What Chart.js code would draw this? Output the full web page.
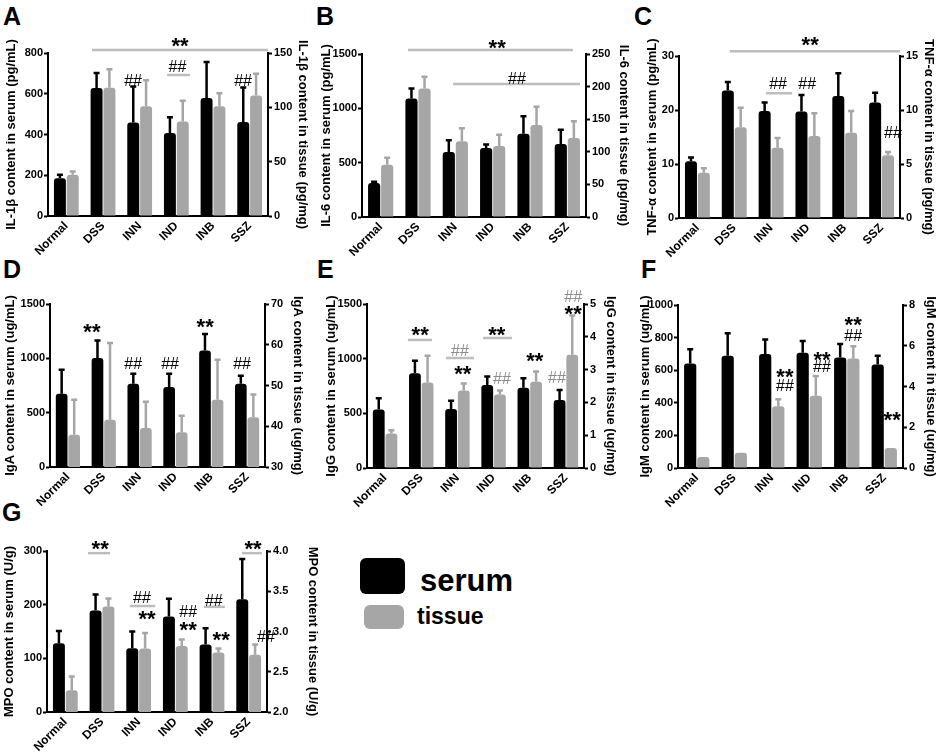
<!DOCTYPE html>
<html>
<head>
<meta charset="utf-8">
<script src="https://cdn.jsdelivr.net/npm/chart.js@4.4.0/dist/chart.umd.min.js"></script>
<style>
  body { margin: 0; background: #fff; }
  #page { position: relative; width: 941px; height: 754px; overflow: hidden; font-family: 'Liberation Sans', Arial, sans-serif; }
  canvas { position: absolute; }
  .letter { position: absolute; font-weight: bold; font-size: 25px; line-height: 25px; color: #000; }
  .swatch { position: absolute; border-radius: 6px; }
  .legend-text { position: absolute; font-weight: bold; color: #000; line-height: 1; }
</style>
</head>
<body>
<div id="page">
  <div class="letter" style="left:3px;top:4px">A</div>
  <div class="letter" style="left:316px;top:4px">B</div>
  <div class="letter" style="left:634px;top:4px">C</div>
  <div class="letter" style="left:3px;top:257px">D</div>
  <div class="letter" style="left:317px;top:257px">E</div>
  <div class="letter" style="left:641px;top:257px">F</div>
  <div class="letter" style="left:2px;top:500px">G</div>

  <div class="swatch" style="left:360px;top:558px;width:45px;height:36px;background:#000"></div>
  <div class="legend-text" style="left:420px;top:565px;font-size:31px">serum</div>
  <div class="swatch" style="left:364px;top:605px;width:40px;height:24px;background:#a6a6a6"></div>
  <div class="legend-text" style="left:417px;top:605px;font-size:23px">tissue</div>
</div>
<script>
// Groups on the x axis
const categories = ['Normal', 'DSS', 'INN', 'IND', 'INB', 'SSZ'];

// A - IL-1β
const il1bSerum = [185, 628, 459, 407, 579, 461];
const il1bSerumErr = [17, 74, 177, 78, 177, 170];
const il1bTissue = [38, 118, 101, 87, 101, 111];
const il1bTissueErr = [3, 17, 24, 19, 12, 20];

// B - IL-6
const il6Serum = [312, 1090, 598, 635, 765, 672];
const il6SerumErr = [12, 92, 108, 33, 162, 130];
const il6Tissue = [80, 197, 116, 109, 141, 121];
const il6TissueErr = [11, 18, 20, 17, 28, 26];

// C - TNF-α
const tnfSerum = [10.5, 23.6, 19.8, 19.7, 22.6, 21.4];
const tnfSerumErr = [0.7, 1.6, 1.6, 3.1, 4.2, 1.8];
const tnfTissue = [4.2, 8.4, 6.5, 7.6, 7.9, 5.8];
const tnfTissueErr = [0.4, 1.8, 0.9, 2.1, 2.0, 0.3];

// D - IgA
const igaSerum = [675, 1003, 767, 736, 1071, 767];
const igaSerumErr = [221, 160, 92, 123, 153, 73];
const igaTissue = [37.9, 41.6, 39.6, 38.5, 46.5, 42.2];
const igaTissueErr = [8.6, 18.8, 6.4, 4.1, 9.8, 5.6];

// E - IgG
const iggSerum = [536, 866, 539, 759, 735, 621];
const iggSerumErr = [101, 114, 76, 77, 85, 92];
const iggTissue = [1.05, 2.61, 2.36, 2.24, 2.63, 3.45];
const iggTissueErr = [0.10, 0.81, 0.22, 0.12, 0.31, 1.20];

// F - IgM
const igmSerum = [641, 688, 699, 707, 678, 635];
const igmSerumErr = [88, 138, 90, 72, 82, 54];
const igmTissue = [0.54, 0.75, 3.03, 3.54, 5.38, 0.98];
const igmTissueErr = [0, 0, 0.35, 0.98, 0.6, 0];

// G - MPO
const mpoSerum = [128, 189, 119, 178, 126, 210];
const mpoSerumErr = [23, 30, 31, 33, 30, 75];
const mpoTissue = [2.27, 3.31, 2.79, 2.82, 2.74, 2.71];
const mpoTissueErr = [0.17, 0.10, 0.19, 0.08, 0.05, 0.13];

// Significance marks: x in category units, y in the serum axis units
const marksA = [
    { line: [0.7, 5.5], y: 815 }, { text: '**', x: 3.1, y: 850 },
    { text: '##', x: 1.82, y: 667 },
    { line: [2.75, 3.37], y: 692 }, { text: '##', x: 3.03, y: 736 },
    { text: '##', x: 4.82, y: 667 }
];
const marksB = [
    { line: [0.73, 5.15], y: 1537 }, { text: '**', x: 3.12, y: 1583 },
    { line: [1.94, 5.34], y: 1224 }, { text: '##', x: 3.65, y: 1279 }
];
const marksC = [
    { line: [0.88, 5.5], y: 30.9 }, { text: '**', x: 3.06, y: 32.6 },
    { line: [1.86, 2.57], y: 23.1 }, { text: '##', x: 2.19, y: 25.0 },
    { text: '##', x: 2.98, y: 25.0 },
    { text: '##', x: 5.31, y: 15.9 }
];
const marksD = [
    { text: '**', x: 0.67, y: 1279 },
    { text: '##', x: 1.82, y: 957 },
    { text: '##', x: 2.85, y: 957 },
    { text: '**', x: 3.83, y: 1325 },
    { text: '##', x: 4.86, y: 957 }
];
const marksE = [
    { line: [0.63, 1.30], y: 1171 }, { text: '**', x: 0.97, y: 1244 },
    { line: [1.68, 2.46], y: 1006 }, { text: '##', x: 2.07, y: 1079, gray: true },
    { text: '**', x: 2.15, y: 896 },
    { line: [2.71, 3.51], y: 1189 }, { text: '**', x: 3.09, y: 1253 },
    { text: '##', x: 3.23, y: 823, gray: true },
    { text: '**', x: 4.14, y: 1015 },
    { text: '##', x: 4.75, y: 832, gray: true },
    { text: '##', x: 5.2, y: 1573, gray: true }, { text: '**', x: 5.2, y: 1445 }
];
const marksF = [
    { text: '**', x: 2.35, y: 577 }, { text: '##', x: 2.35, y: 509 },
    { text: '**', x: 3.34, y: 681 }, { text: '##', x: 3.34, y: 626 },
    { text: '**', x: 4.17, y: 896 }, { text: '##', x: 4.17, y: 816 },
    { text: '**', x: 5.21, y: 313 }
];
const marksG = [
    { line: [0.62, 1.22], y: 296 }, { text: '**', x: 0.95, y: 311 },
    { line: [1.76, 2.45], y: 197.5 }, { text: '##', x: 2.09, y: 214 },
    { text: '**', x: 2.23, y: 179 },
    { text: '##', x: 3.35, y: 188 }, { text: '**', x: 3.35, y: 160 },
    { line: [3.78, 4.35], y: 196 }, { text: '##', x: 4.05, y: 209 },
    { text: '**', x: 4.25, y: 140 },
    { text: '##', x: 5.47, y: 142 },
    { line: [4.82, 5.36], y: 296 }, { text: '**', x: 5.12, y: 311 }
];

const BLACK = '#000000';
const GRAY = '#a6a6a6';
const SANS = "'Liberation Sans', Arial, sans-serif";

// Error bars drawn from each bar top using the dataset's own axis
const errorBars = {
    id: 'errorBars',
    afterDatasetsDraw(chart) {
        const ctx = chart.ctx;
        chart.data.datasets.forEach((ds, i) => {
            const meta = chart.getDatasetMeta(i);
            const scale = chart.scales[ds.yAxisID];
            ctx.save();
            ctx.strokeStyle = ds.errColor;
            ctx.lineWidth = 2.5;
            meta.data.forEach((bar, j) => {
                const e = ds.errors[j];
                if (!e) return;
                const yTop = scale.getPixelForValue(ds.data[j] + e);
                ctx.beginPath();
                ctx.moveTo(bar.x, bar.y);
                ctx.lineTo(bar.x, yTop);
                ctx.moveTo(bar.x - 3, yTop);
                ctx.lineTo(bar.x + 3, yTop);
                ctx.stroke();
            });
            ctx.restore();
        });
    }
};

// ** / ## marks and the grey bracket lines
const sigMarks = {
    id: 'sigMarks',
    afterDraw(chart, args, opts) {
        const ctx = chart.ctx;
        const x = chart.scales.x;
        const y = chart.scales.y;
        ctx.save();
        (opts.items || []).forEach(m => {
            if (m.line) {
                ctx.strokeStyle = '#bdbdbd';
                ctx.lineWidth = 2.5;
                ctx.beginPath();
                ctx.moveTo(x.getPixelForValue(m.line[0]), y.getPixelForValue(m.y));
                ctx.lineTo(x.getPixelForValue(m.line[1]), y.getPixelForValue(m.y));
                ctx.stroke();
                return;
            }
            ctx.font = m.text === '**' ? `bold 22px ${SANS}` : `16px ${SANS}`;
            ctx.fillStyle = m.gray ? '#8c8c8c' : BLACK;
            ctx.textAlign = 'center';
            ctx.textBaseline = 'alphabetic';
            const mt = ctx.measureText(m.text);
            const shift = (mt.actualBoundingBoxAscent - mt.actualBoundingBoxDescent) / 2;
            ctx.fillText(m.text, x.getPixelForValue(m.x), y.getPixelForValue(m.y) + shift);
        });
        ctx.restore();
    }
};

const TOP_PAD = 60;
const X_H = 50;

const axisGrid = { drawOnChartArea: false, drawTicks: true, tickLength: 4, tickWidth: 2, color: BLACK };
const axisBorder = { display: true, color: BLACK, width: 2 };
const tickFont = { family: SANS, weight: 'bold', size: 11 };
const titleFont = { family: SANS, weight: 'bold', size: 13 };

const makePanel = (p) => {
    const canvas = document.createElement('canvas');
    const w = p.leftW + (p.r - p.l) + p.rightW;
    const h = TOP_PAD + (p.b - p.t) + X_H;
    canvas.width = w;
    canvas.height = h;
    canvas.style.left = (p.l - p.leftW) + 'px';
    canvas.style.top = (p.t - TOP_PAD) + 'px';
    canvas.style.width = w + 'px';
    canvas.style.height = h + 'px';
    document.getElementById('page').appendChild(canvas);

    new Chart(canvas.getContext('2d'), {
        type: 'bar',
        data: {
            labels: categories,
            datasets: [
                { data: p.serum, errors: p.serumErr, errColor: BLACK, backgroundColor: BLACK, yAxisID: 'y',
                  borderRadius: 3, categoryPercentage: 0.7, barPercentage: 0.93 },
                { data: p.tissue, errors: p.tissueErr, errColor: GRAY, backgroundColor: GRAY, yAxisID: 'y1',
                  borderRadius: 3, categoryPercentage: 0.7, barPercentage: 0.93 }
            ]
        },
        options: {
            responsive: false,
            animation: false,
            layout: { padding: { top: TOP_PAD, left: 0, right: 0, bottom: 0 } },
            plugins: {
                legend: { display: false },
                tooltip: { enabled: false },
                sigMarks: { items: p.marks }
            },
            scales: {
                x: {
                    grid: { display: false, drawTicks: false },
                    border: axisBorder,
                    ticks: {
                        autoSkip: false, maxRotation: 45, minRotation: 45, padding: 3,
                        color: BLACK, font: { family: SANS, weight: 'bold', size: 12 }
                    },
                    afterFit: (s) => { s.height = X_H; }
                },
                y: {
                    position: 'left',
                    min: 0, max: p.yMax,
                    grid: axisGrid, border: axisBorder,
                    ticks: { stepSize: p.yStep, padding: 1, color: BLACK, font: tickFont, callback: (v) => String(v) },
                    title: { display: true, text: p.leftTitle, color: BLACK, font: titleFont },
                    afterFit: (s) => { s.width = p.leftW; }
                },
                y1: {
                    position: 'right',
                    min: p.y1Min, max: p.y1Max,
                    grid: axisGrid, border: axisBorder,
                    ticks: {
                        stepSize: p.y1Step, padding: 2, color: BLACK, font: tickFont,
                        callback: (v) => p.y1Fixed ? Number(v).toFixed(1) : String(v)
                    },
                    title: { display: true, text: p.rightTitle, color: BLACK, font: titleFont },
                    afterFit: (s) => { s.width = p.rightW; }
                }
            }
        },
        plugins: [errorBars, sigMarks]
    });
};

const init = () => {
    makePanel({ l: 48, t: 53, r: 268, b: 216, leftW: 48, rightW: 46,
        serum: il1bSerum, serumErr: il1bSerumErr, tissue: il1bTissue, tissueErr: il1bTissueErr,
        yMax: 800, yStep: 200, y1Min: 0, y1Max: 150, y1Step: 50,
        leftTitle: 'IL-1β content in serum (pg/mL)', rightTitle: 'IL-1β content in tissue (pg/mg)', marks: marksA });
    makePanel({ l: 362, t: 54, r: 586, b: 217, leftW: 47, rightW: 49,
        serum: il6Serum, serumErr: il6SerumErr, tissue: il6Tissue, tissueErr: il6TissueErr,
        yMax: 1500, yStep: 500, y1Min: 0, y1Max: 250, y1Step: 50,
        leftTitle: 'IL-6 content in serum (pg/mL)', rightTitle: 'IL-6 content in tissue (pg/mg)', marks: marksB });
    makePanel({ l: 679, t: 56, r: 900, b: 218, leftW: 38, rightW: 40,
        serum: tnfSerum, serumErr: tnfSerumErr, tissue: tnfTissue, tissueErr: tnfTissueErr,
        yMax: 30, yStep: 10, y1Min: 0, y1Max: 15, y1Step: 5,
        leftTitle: 'TNF-α content in serum (pg/mL)', rightTitle: 'TNF-α content in tissue (pg/mg)', marks: marksC });
    makePanel({ l: 50, t: 304, r: 265, b: 467, leftW: 51, rightW: 44,
        serum: igaSerum, serumErr: igaSerumErr, tissue: igaTissue, tissueErr: igaTissueErr,
        yMax: 1500, yStep: 500, y1Min: 30, y1Max: 70, y1Step: 10,
        leftTitle: 'IgA content in serum (ug/mL)', rightTitle: 'IgA content in tissue (ug/mg)', marks: marksD });
    makePanel({ l: 367, t: 304, r: 584, b: 468, leftW: 47, rightW: 38,
        serum: iggSerum, serumErr: iggSerumErr, tissue: iggTissue, tissueErr: iggTissueErr,
        yMax: 1500, yStep: 500, y1Min: 0, y1Max: 5, y1Step: 1,
        leftTitle: 'IgG content in serum (ug/mL)', rightTitle: 'IgG content in tissue (ug/mg)', marks: marksE });
    makePanel({ l: 678, t: 305, r: 903, b: 468, leftW: 44, rightW: 39,
        serum: igmSerum, serumErr: igmSerumErr, tissue: igmTissue, tissueErr: igmTissueErr,
        yMax: 1000, yStep: 200, y1Min: 0, y1Max: 8, y1Step: 2,
        leftTitle: 'IgM content in serum (ug/mL)', rightTitle: 'IgM content in tissue (ug/mg)', marks: marksF });
    makePanel({ l: 47, t: 551, r: 267, b: 712, leftW: 49, rightW: 57,
        serum: mpoSerum, serumErr: mpoSerumErr, tissue: mpoTissue, tissueErr: mpoTissueErr,
        yMax: 300, yStep: 100, y1Min: 2, y1Max: 4, y1Step: 0.5, y1Fixed: true,
        leftTitle: 'MPO content in serum (U/g)', rightTitle: 'MPO content in tissue (U/g)', marks: marksG });
};

document.addEventListener('DOMContentLoaded', init);
</script>
</body>
</html>
